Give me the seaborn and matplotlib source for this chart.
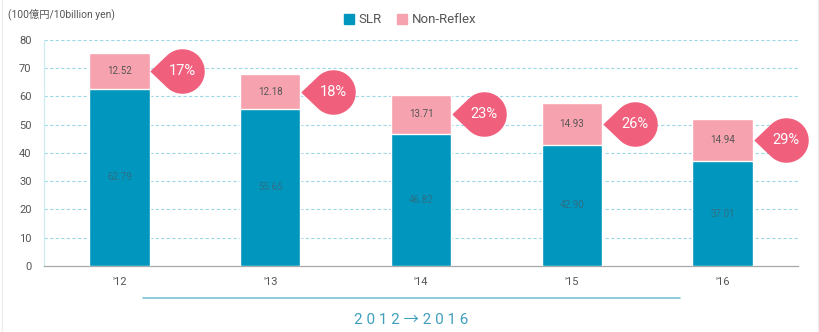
import numpy as np
import pandas as pd
import matplotlib
matplotlib.use("Agg")
import matplotlib.pyplot as plt
from matplotlib.path import Path
from matplotlib.patches import Patch
from matplotlib.lines import Line2D
import seaborn as sns

# Shipments by camera type (100 million yen)
years = ["'12", "'13", "'14", "'15", "'16"]
slr = [62.79, 55.65, 46.82, 42.90, 37.01]
non_reflex = [12.52, 12.18, 13.71, 14.93, 14.94]

BLUE = "#0096bd"
PINK = "#f7a2af"
BALLOON = "#f0607d"
GRID = "#9fd9e8"
TEXT = "#555555"

sns.set_theme(style="white")
plt.rcParams["font.family"] = ["Roboto", "Noto Sans CJK JP", "DejaVu Sans"]

df = pd.DataFrame({"year": years, "SLR": slr, "Non-Reflex": non_reflex})
df["total"] = df["SLR"] + df["Non-Reflex"]
df["share"] = df["Non-Reflex"] / df["total"] * 100

fig = plt.figure(figsize=(8.2, 3.32), dpi=100)
ax = fig.add_axes([0.0537, 0.199, 0.9195, 0.6807])

# stacked bars: full total in pink, SLR portion in blue on top of it
sns.barplot(data=df, x="year", y="total", color=PINK, width=0.4,
            saturation=1, ax=ax, zorder=3)
sns.barplot(data=df, x="year", y="SLR", color=BLUE, width=0.4,
            saturation=1, ax=ax, zorder=4)

ax.set_xlim(-0.5, 4.5)
ax.set_ylim(0, 80)
ax.set_xlabel("")
ax.set_ylabel("")
ax.set_yticks(range(0, 81, 10))
for v in range(10, 81, 10):
    ax.axhline(v, color=GRID, lw=0.8, ls=(0, (3, 2)), zorder=1)

ax.tick_params(axis="y", length=0, labelsize=8, colors=TEXT, pad=9)
ax.tick_params(axis="x", which="major", length=0, labelsize=8,
               colors=TEXT, pad=8)
ax.set_xticks(np.arange(-0.5, 5, 1), minor=True)
ax.tick_params(axis="x", which="minor", length=4, width=0.8,
               color="#999999", direction="out")
for s in ("top", "right"):
    ax.spines[s].set_visible(False)
ax.spines["left"].set_color("#cfecf4")
ax.spines["left"].set_linewidth(0.9)
ax.spines["bottom"].set_color("#a8a8a8")
ax.spines["bottom"].set_linewidth(0.9)

# segment value labels
for i, row in df.iterrows():
    ax.text(i, row["SLR"] / 2, f"{row['SLR']:.2f}", ha="center",
            va="center", fontsize=7, color="#2f6f85", zorder=6)
    ax.text(i, row["SLR"] + row["Non-Reflex"] / 2,
            f"{row['Non-Reflex']:.2f}", ha="center", va="center",
            fontsize=7, color=TEXT, zorder=6)

# teardrop balloon marker: circle with a point to the left
d = 1.45
t0 = np.arccos(1 / d)
phi = np.linspace(np.pi - t0, -(np.pi - t0), 80)
verts = [(-d, 0.0)] + list(zip(np.cos(phi), np.sin(phi))) + [(-d, 0.0)]
codes = [Path.MOVETO] + [Path.LINETO] * (len(verts) - 2) + [Path.CLOSEPOLY]
drop = Path(verts, codes)

for i, row in df.iterrows():
    y = row["SLR"] + row["Non-Reflex"] / 2
    ax.plot([i + 0.417], [y], marker=drop, markersize=45, color=BALLOON,
            ls="none", zorder=7, clip_on=False)
    ax.text(i + 0.417, y, f"{row['share']:.0f}%", ha="center",
            va="center", fontsize=10.5, color="white",
            zorder=8, clip_on=False)

# unit label and legend
fig.text(0.01, 0.958, "(100億円/10billion yen)", fontsize=7.4,
         color=TEXT, ha="left", va="center")
handles = [Patch(color=BLUE, label="SLR"), Patch(color=PINK, label="Non-Reflex")]
fig.legend(handles=handles, loc="center", bbox_to_anchor=(0.5, 0.94),
           ncol=2, frameon=False, fontsize=9.5, handlelength=0.75,
           handleheight=0.75, handletextpad=0.35, columnspacing=1.2,
           labelcolor=TEXT)

# period bar below the axis
fig.add_artist(Line2D([0.174, 0.829], [0.1024, 0.1024], color="#7cc4d8",
                      lw=1.2, transform=fig.transFigure))
fig.text(0.501, 0.036, "2 0 1 2 → 2 0 1 6", ha="center", va="center",
         fontsize=11, color="#3f9fbc")

# faint card edges
for x in (0.003, 0.997):
    fig.add_artist(Line2D([x, x], [0, 1], color="#ececec", lw=0.8,
                          transform=fig.transFigure))

fig.savefig("out.png", dpi=100)
